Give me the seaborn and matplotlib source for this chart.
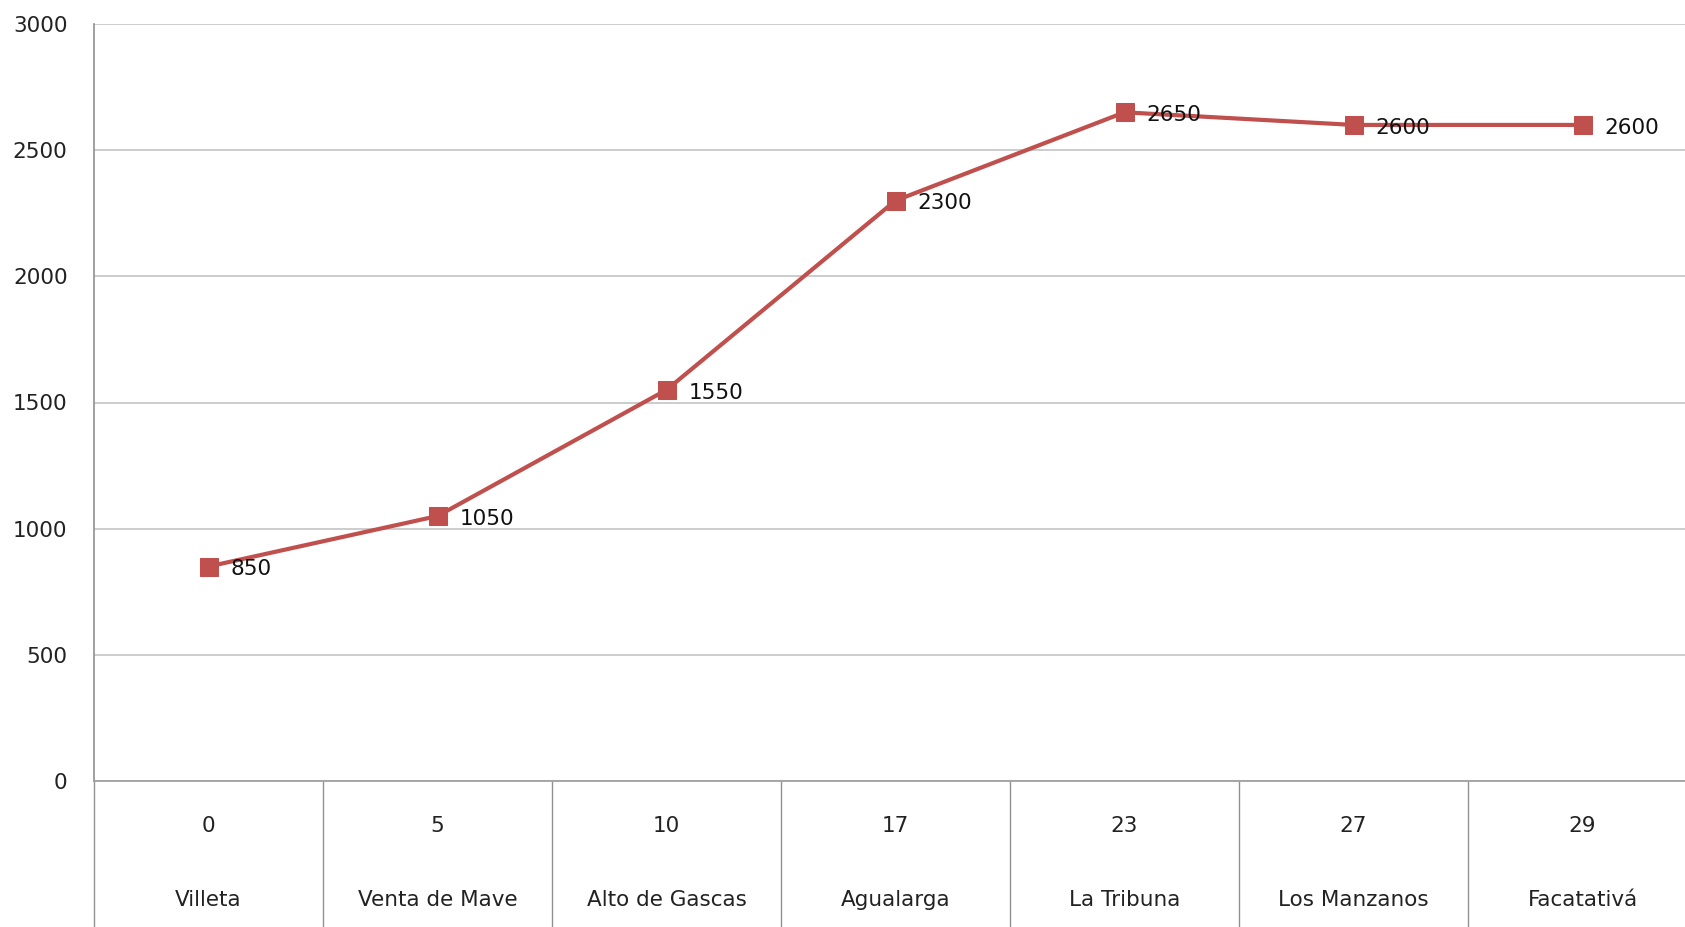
import matplotlib
matplotlib.use("Agg")
import matplotlib.pyplot as plt
import seaborn as sns
import numpy as np
import pandas as pd

# datos: distancia (km), sitio, altura (m)
km = [0, 5, 10, 17, 23, 27, 29]
sitios = ["Villeta", "Venta de Mave", "Alto de Gascas", "Agualarga",
          "La Tribuna", "Los Manzanos", "Facatativá"]
altura = [850, 1050, 1550, 2300, 2650, 2600, 2600]

sns.set_style("white")
plt.rcParams['font.family'] = ['DejaVu Sans']

df = pd.DataFrame({"pos": np.arange(len(sitios)), "altura": altura})

fig = plt.figure(figsize=(16.85, 9.27), dpi=100)
ax = fig.add_axes([94 / 1685, 146 / 927, 1603 / 1685, 757 / 927])

sns.lineplot(data=df, x="pos", y="altura", ax=ax, color="#C0504D",
             linewidth=3, marker="s", markersize=13,
             markeredgecolor="#C0504D", zorder=3)

# etiquetas de datos
for i, v in enumerate(altura):
    ax.annotate(str(v), (i, v), xytext=(16, -2), textcoords="offset points",
                va="center", ha="left", fontsize=15.5, color="#111111")

ax.set_xlim(-0.5, 6.5)
ax.set_ylim(0, 3000)
ax.set_yticks(range(0, 3001, 500))
ax.yaxis.grid(True, color="#C8C8C8", linewidth=1.3)
ax.set_axisbelow(True)

ax.set_xticks(range(len(sitios)))
ax.set_xticklabels([f"{k}\n\n{s}" for k, s in zip(km, sitios)],
                   linespacing=2.07)
ax.set_xticks(np.arange(-0.5, 7.0, 1.0), minor=True)
ax.tick_params(axis="x", which="major", bottom=True, length=0, pad=25,
               labelsize=15.5, labelcolor="#222222")
ax.tick_params(axis="x", which="minor", bottom=True, length=110, width=1,
               color="#909090", direction="out")
ax.tick_params(axis="y", length=0, pad=19, labelsize=15.5, labelcolor="#222222")

for side in ["top", "right"]:
    ax.spines[side].set_visible(False)
ax.spines["left"].set_color("#909090")
ax.spines["bottom"].set_color("#A0A0A0")
ax.spines["left"].set_linewidth(1.2)
ax.spines["bottom"].set_linewidth(1.3)
ax.set_xlabel("")
ax.set_ylabel("")

fig.savefig("out.png", dpi=100)
